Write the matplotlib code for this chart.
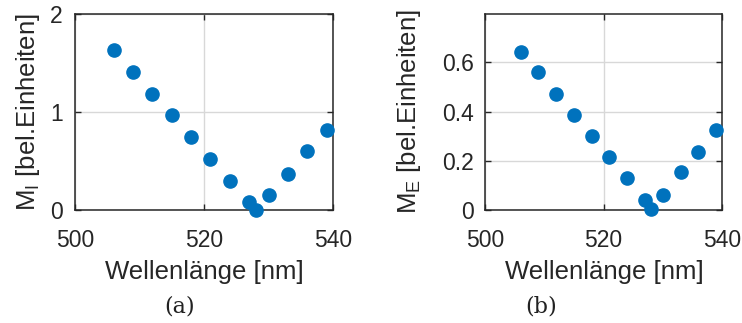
import matplotlib
matplotlib.use('Agg')
import matplotlib.pyplot as plt

# Messwerte
wellenlaenge = [506, 509, 512, 515, 518, 521, 524, 527, 528, 530, 533, 536, 539]
m_i = [1.63, 1.41, 1.18, 0.97, 0.75, 0.52, 0.30, 0.08, 0.0, 0.15, 0.37, 0.60, 0.82]
m_e = [0.641, 0.560, 0.473, 0.386, 0.300, 0.216, 0.129, 0.041, 0.003, 0.061, 0.155, 0.237, 0.325]

x_ticks = [500, 520, 540]
yticks_a = [0, 1, 2]
yticks_b = [0, 0.2, 0.4, 0.6]
yticklabels_b = ['0', '0.2', '0.4', '0.6']

plt.rcParams['font.family'] = ['Liberation Sans', 'DejaVu Sans']
plt.rcParams['mathtext.fontset'] = 'custom'
plt.rcParams['mathtext.rm'] = 'Liberation Sans'
plt.rcParams['mathtext.it'] = 'Liberation Sans'

blau = '#0072BD'
dunkel = '#262626'

fig = plt.figure(figsize=(7.42, 3.23), dpi=100)
ax_a = fig.add_axes([75/742, 113/323, 258/742, 196/323])
ax_b = fig.add_axes([485/742, 113/323, 237/742, 196/323])


def style(ax, xp=14, yp=8):
    for s in ax.spines.values():
        s.set_color(dunkel)
        s.set_linewidth(1.1)
    ax.tick_params(direction='in', length=4, width=1.0, colors=dunkel,
                   top=True, right=True, labelsize=16.5, labelcolor=dunkel)
    ax.tick_params(axis='x', pad=xp)
    ax.tick_params(axis='y', pad=yp)
    ax.grid(True, color='#d8d8d8', linewidth=1.0)
    ax.set_axisbelow(True)


ax_a.plot(wellenlaenge, m_i, 'o', color=blau, markersize=9.5, clip_on=False, zorder=5)
ax_a.set_xlim(500, 540)
ax_a.set_ylim(0, 2)
ax_a.set_xticks(x_ticks)
ax_a.set_yticks(yticks_a)
style(ax_a, yp=9)

ax_b.plot(wellenlaenge, m_e, 'o', color=blau, markersize=9.5, clip_on=False, zorder=5)
ax_b.set_xlim(500, 540)
ax_b.set_ylim(0, 0.797)
ax_b.set_xticks(x_ticks)
ax_b.set_yticks(yticks_b)
ax_b.set_yticklabels(yticklabels_b)
style(ax_b, yp=8)

# Achsenbeschriftungen
fig.text(204/742, 1 - 272/323, 'Wellenlänge [nm]', ha='center', va='center',
         fontsize=18.5, color=dunkel)
fig.text(604/742, 1 - 272/323, 'Wellenlänge [nm]', ha='center', va='center',
         fontsize=18.5, color=dunkel)
fig.text(28/742, 1 - 112/323, r'M$_\mathrm{I}$ [bel.Einheiten]', rotation=90,
         ha='center', va='center', fontsize=18.5, color=dunkel)
fig.text(409/742, 1 - 112/323, r'M$_\mathrm{E}$ [bel.Einheiten]', rotation=90,
         ha='center', va='center', fontsize=18.5, color=dunkel)

fig.text(180/742, 1 - 306/323, '(a)', ha='center', va='center',
         fontsize=16, family='DejaVu Serif', color='#222222')
fig.text(541/742, 1 - 306/323, '(b)', ha='center', va='center',
         fontsize=16, family='DejaVu Serif', color='#222222')

fig.savefig('out.png', dpi=100)
